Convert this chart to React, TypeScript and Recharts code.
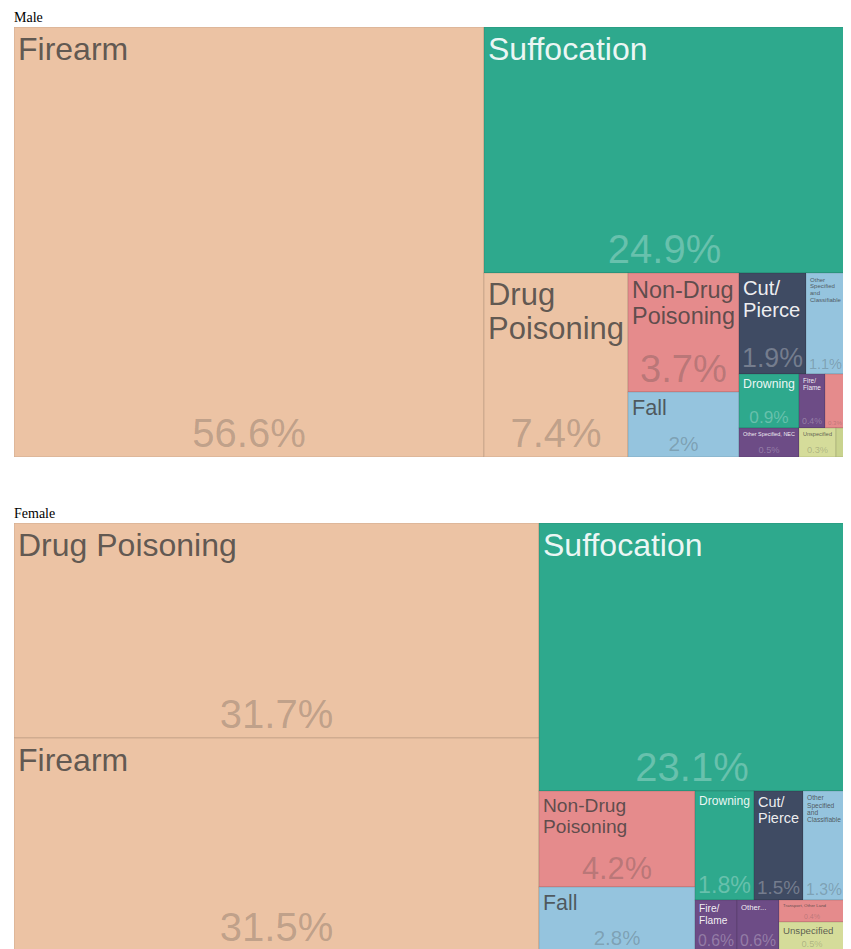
import React from "react";
import { Treemap } from "recharts";

// share of deaths by mechanism, percent
const maleCauses = [
  "Firearm",
  "Suffocation",
  "Drug Poisoning",
  "Non-Drug Poisoning",
  "Fall",
  "Cut/Pierce",
  "Other Specified and Classifiable",
  "Drowning",
  "Other Specified, NEC",
  "Fire/Flame",
  "Transport, Other Land",
  "Unspecified",
  "Natural/Environmental",
];
const malePercents = [56.6, 24.9, 7.4, 3.7, 2, 1.9, 1.1, 0.9, 0.5, 0.4, 0.3, 0.3, 0.05];

const femaleCauses = [
  "Drug Poisoning",
  "Firearm",
  "Suffocation",
  "Non-Drug Poisoning",
  "Fall",
  "Drowning",
  "Cut/Pierce",
  "Other Specified and Classifiable",
  "Fire/Flame",
  "Other Specified, NEC",
  "Transport, Other Land",
  "Unspecified",
];
const femalePercents = [31.7, 31.5, 23.1, 4.2, 2.8, 1.8, 1.5, 1.3, 0.6, 0.6, 0.4, 0.5];

const CHART_W = 831;
const MALE_H = 430;
const FEMALE_H = 428;
const FONT = "'Liberation Sans', Arial, sans-serif";

const colors: Record<string, string> = {
  Firearm: "#ecc3a4",
  "Drug Poisoning": "#ecc3a4",
  Suffocation: "#2ea98d",
  Drowning: "#2ea98d",
  "Non-Drug Poisoning": "#e58b8c",
  "Transport, Other Land": "#e58b8c",
  Fall: "#95c4de",
  "Other Specified and Classifiable": "#95c4de",
  "Cut/Pierce": "#3f4b63",
  "Fire/Flame": "#6d4c86",
  "Other Specified, NEC": "#6d4c86",
  Unspecified: "#d5dc9a",
  "Natural/Environmental": "#c9d38e",
};
const darkCells = new Set(["Suffocation", "Drowning", "Cut/Pierce", "Fire/Flame", "Other Specified, NEC"]);

// rough Arial advance widths (em)
const cw: Record<string, number> = {
  a: 0.556, b: 0.556, c: 0.5, d: 0.556, e: 0.556, f: 0.278, g: 0.556, h: 0.556, i: 0.222, j: 0.222,
  k: 0.5, l: 0.222, m: 0.833, n: 0.556, o: 0.556, p: 0.556, q: 0.556, r: 0.333, s: 0.5, t: 0.278,
  u: 0.556, v: 0.5, w: 0.722, x: 0.5, y: 0.5, z: 0.5,
  A: 0.667, B: 0.667, C: 0.722, D: 0.722, E: 0.667, F: 0.611, G: 0.778, H: 0.722, I: 0.278, J: 0.5,
  K: 0.667, L: 0.556, M: 0.833, N: 0.722, O: 0.778, P: 0.667, Q: 0.778, R: 0.722, S: 0.667, T: 0.611,
  U: 0.722, V: 0.667, W: 0.944, X: 0.667, Y: 0.667, Z: 0.611,
  " ": 0.278, ".": 0.278, ",": 0.278, "/": 0.278, "-": 0.333, "%": 0.889,
};
const em = (s: string) => s.split("").reduce((t, c) => t + (cw[c] ?? 0.556), 0);

const tokenize = (name: string) => name.split(" ").flatMap((w) => w.split(/(?<=\/)/));

function wrap(toks: string[], size: number, maxW: number) {
  const lines: string[] = [];
  let cur = "";
  toks.forEach((t) => {
    const joined = cur === "" ? t : cur.endsWith("/") ? cur + t : cur + " " + t;
    if (cur !== "" && em(joined) * size > maxW) {
      lines.push(cur);
      cur = t;
    } else cur = joined;
  });
  if (cur) lines.push(cur);
  return lines;
}

function fitName(name: string, w: number, h: number, pctSize: number) {
  const avail = w - 8;
  const toks = tokenize(name);
  const longest = Math.max(...toks.map((t) => em(t)));
  let size = Math.min(32, h / 3, avail / longest);
  let lines = wrap(toks, size, avail);
  if (lines.length > 1) {
    size = Math.min(size, h / 5);
    lines = wrap(toks, size, avail);
  }
  const single = Math.min(h / 3, avail / em(name));
  if (size < 4 && single >= 4) return { lines: [name], size: single };
  const room = h - pctSize - 8;
  const tooTall = lines.length > 1 && lines.length * 1.1 * size > room;
  if (tooTall || (lines.length > 2 && h < 60)) {
    if (single >= 4) return { lines: [name], size: single };
    const short = toks[0] + "...";
    return { lines: [short], size: Math.min(size, avail / em(short)) };
  }
  return { lines, size };
}

const CauseCell = (props: any) => {
  const { x, y, width, height, depth, name, value } = props;
  if (depth !== 1 || !width || !height) return null;
  const bg = colors[name] ?? "#cccccc";
  const dark = darkCells.has(name);
  const pctText = `${value}%`;
  const pctSize = Math.min(40, height * 0.32, (width - 6) / em(pctText));
  const label = fitName(name, width, height, pctSize);
  const showText = width > 10 && height > 10;
  return (
    <g>
      <rect x={x} y={y} width={width} height={height} fill={bg} stroke="rgba(0,0,0,0.12)" strokeWidth={1} />
      {showText && label.size >= 4 && (
        <text
          x={x + 4}
          y={y + 3 + 0.93 * label.size}
          fontSize={label.size}
          fontFamily={FONT}
          fill={dark ? "rgba(255,255,255,0.92)" : "rgba(60,60,60,0.8)"}
        >
          {label.lines.map((l, i) => (
            <tspan key={i} x={x + 4} dy={i === 0 ? 0 : 1.1 * label.size}>
              {l}
            </tspan>
          ))}
        </text>
      )}
      {showText && pctSize >= 4 && (
        <text
          x={x + width / 2}
          y={y + height - (0.2 * pctSize + 2)}
          textAnchor="middle"
          fontSize={pctSize}
          fontFamily={FONT}
          fill={dark ? "rgba(255,255,255,0.28)" : "rgba(60,60,60,0.27)"}
        >
          {pctText}
        </text>
      )}
    </g>
  );
};

const maleData = maleCauses.map((name, i) => ({ name, value: malePercents[i] }));
const femaleData = femaleCauses.map((name, i) => ({ name, value: femalePercents[i] }));

const titleStyle: React.CSSProperties = { height: 19, lineHeight: "19px", fontSize: 14 };

export default function App() {
  return (
    <div style={{ paddingLeft: 6, width: CHART_W }}>
      <div style={titleStyle}>Male</div>
      <Treemap
        width={CHART_W}
        height={MALE_H}
        data={maleData}
        dataKey="value"
        nameKey="name"
        isAnimationActive={false}
        content={<CauseCell />}
      />
      <div style={{ height: 47 }} />
      <div style={titleStyle}>Female</div>
      <Treemap
        width={CHART_W}
        height={FEMALE_H}
        data={femaleData}
        dataKey="value"
        nameKey="name"
        isAnimationActive={false}
        content={<CauseCell />}
      />
    </div>
  );
}
